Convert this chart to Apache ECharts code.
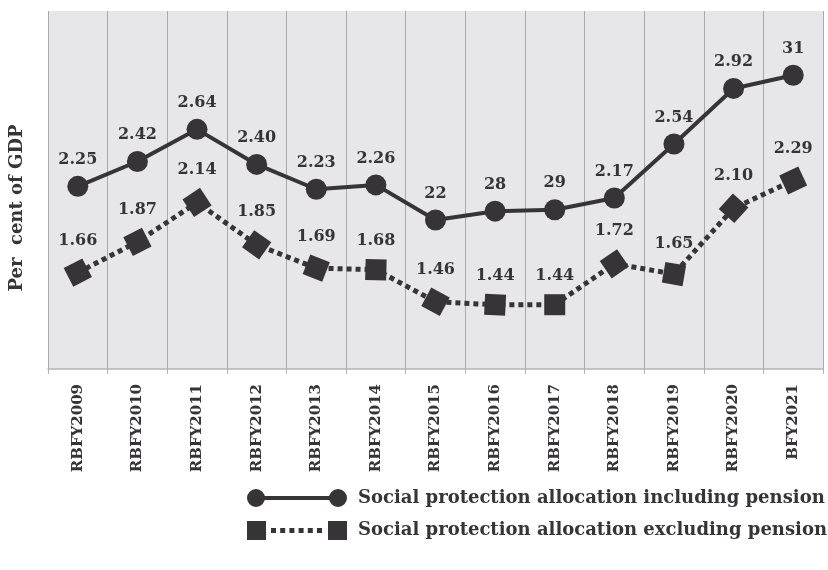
<!DOCTYPE html>
<html>
<head>
<meta charset="utf-8">
<script src="https://cdn.jsdelivr.net/npm/echarts@6/dist/echarts.min.js"></script>
<style>
  html, body { margin: 0; padding: 0; background: #ffffff; }
  #chart { width: 828px; height: 570px; }
</style>
</head>
<body>
<div id="chart"></div>
<script>
// Fiscal years
const years = ['RBFY2009', 'RBFY2010', 'RBFY2011', 'RBFY2012', 'RBFY2013', 'RBFY2014',
  'RBFY2015', 'RBFY2016', 'RBFY2017', 'RBFY2018', 'RBFY2019', 'RBFY2020', 'BFY2021'];

// Social protection allocation, per cent of GDP
const withPension = [2.25, 2.42, 2.64, 2.40, 2.23, 2.26, 2.02, 2.08, 2.09, 2.17, 2.54, 2.92, 3.01];
const withPensionLabels = ['2.25', '2.42', '2.64', '2.40', '2.23', '2.26', '22', '28', '29', '2.17', '2.54', '2.92', '31'];
const withoutPension = [1.66, 1.87, 2.14, 1.85, 1.69, 1.68, 1.46, 1.44, 1.44, 1.72, 1.65, 2.10, 2.29];
const withoutPensionLabels = ['1.66', '1.87', '2.14', '1.85', '1.69', '1.68', '1.46', '1.44', '1.44', '1.72', '1.65', '2.10', '2.29'];

const seriesNames = ['Social protection allocation including pension',
  'Social protection allocation excluding pension'];

const INK = '#363437';
const FONT = '"DejaVu Serif", serif';

// legend glyphs: marker - line - marker
const iconCircleLine = 'path://M0,9 A9,9 0 1,1 18,9 A9,9 0 1,1 0,9 Z M82,9 A9,9 0 1,1 100,9 A9,9 0 1,1 82,9 Z M17,7 L83,7 L83,11 L17,11 Z';
let dots = '';
for (let k = 0; k < 6; k++) {
  const x0 = 24 + k * 9.2;
  dots += ' M' + x0 + ',7 L' + (x0 + 5) + ',7 L' + (x0 + 5) + ',12 L' + x0 + ',12 Z';
}
const iconSquareDots = 'path://M0,0 L19,0 L19,19 L0,19 Z M81,0 L100,0 L100,19 L81,19 Z' + dots;

const chart = echarts.init(document.getElementById('chart'), null, { renderer: 'canvas' });

const option = {
  animation: false,
  backgroundColor: '#ffffff',
  grid: {
    left: 48, right: 5, top: 11, bottom: 201,
    show: true, backgroundColor: '#e7e7e9', borderWidth: 0
  },
  xAxis: {
    type: 'category',
    data: years,
    boundaryGap: true,
    axisLine: { show: true, lineStyle: { color: '#b4b4b4', width: 1.5 } },
    axisTick: { show: true, length: 5, lineStyle: { color: '#b4b4b4', width: 1 } },
    splitLine: { show: true, lineStyle: { color: '#a9a9ab', width: 1 } },
    axisLabel: {
      rotate: 90, margin: 15, interval: 0,
      color: INK, fontFamily: FONT, fontWeight: 'bold', fontSize: 15
    }
  },
  yAxis: {
    type: 'value',
    min: 1, max: 3.45,
    axisLine: { show: false },
    axisTick: { show: false },
    axisLabel: { show: false },
    splitLine: { show: false }
  },
  legend: {
    orient: 'vertical',
    left: 242, top: 484,
    itemWidth: 100, itemHeight: 19, itemGap: 14,
    textStyle: { color: INK, fontFamily: FONT, fontWeight: 'bold', fontSize: 18, padding: [0, 0, 0, 6] },
    data: [
      { name: seriesNames[0], icon: iconCircleLine, itemStyle: { color: INK } },
      { name: seriesNames[1], icon: iconSquareDots, itemStyle: { color: INK } }
    ]
  },
  graphic: [{
    type: 'text',
    x: 17, y: 208,
    rotation: Math.PI / 2,
    style: {
      text: 'Per  cent of GDP',
      fill: INK,
      font: 'bold 18px "DejaVu Serif", serif',
      align: 'center',
      verticalAlign: 'middle'
    }
  }],
  series: [
    {
      name: seriesNames[0],
      type: 'line',
      data: withPension,
      symbol: 'circle',
      symbolSize: 21,
      lineStyle: { color: INK, width: 4 },
      itemStyle: { color: INK },
      label: {
        show: true, position: 'top', distance: 8,
        color: INK, fontFamily: FONT, fontWeight: 'bold', fontSize: 16,
        formatter: p => withPensionLabels[p.dataIndex]
      },
      z: 3
    },
    {
      name: seriesNames[1],
      type: 'line',
      data: withoutPension,
      symbol: 'rect',
      symbolSize: 21,
      lineStyle: { color: INK, width: 5, type: [5, 4] },
      itemStyle: { color: INK },
      label: {
        show: true, position: 'top', distance: 10,
        color: INK, fontFamily: FONT, fontWeight: 'bold', fontSize: 16,
        formatter: p => withoutPensionLabels[p.dataIndex]
      },
      z: 2
    }
  ]
};

chart.setOption(option);

// turn each square marker to follow the segment that leads into it
const px = withoutPension.map((v, i) => chart.convertToPixel({ gridIndex: 0 }, [i, v]));
const rotations = px.map((p, i) => {
  const a = i === 0 ? px[0] : px[i - 1];
  const b = i === 0 ? px[1] : p;
  return Math.atan2(-(b[1] - a[1]), b[0] - a[0]) * 180 / Math.PI;
});
chart.setOption({
  series: [{}, {
    data: withoutPension.map((v, i) => ({ value: v, symbolRotate: rotations[i] }))
  }]
});
</script>
</body>
</html>
